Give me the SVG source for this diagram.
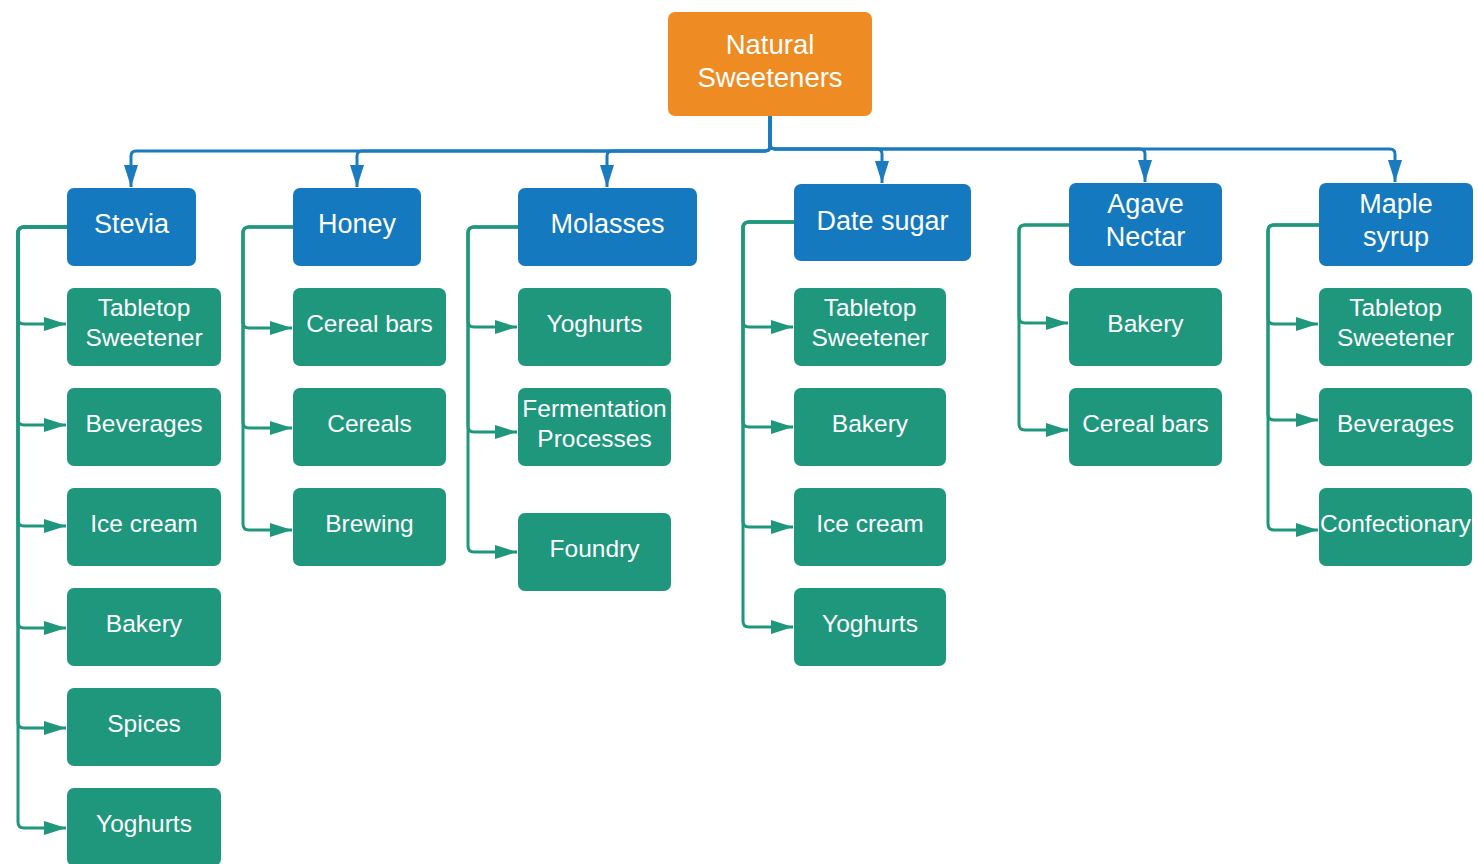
<svg xmlns="http://www.w3.org/2000/svg" width="1478" height="864" viewBox="0 0 1478 864">
<style>
.root{fill:#EF8B23}
.hd{fill:#1479BE}
.ch{fill:#1E977C}
text{font-family:"Liberation Sans",Arial,sans-serif;fill:#fff;text-anchor:middle}
.t0{font-size:27.5px}
.t1{font-size:27px}
.t2{font-size:24.5px}
.bl{fill:none;stroke:#1A7BBF;stroke-width:3}
.gl{fill:none;stroke:#1E977C;stroke-width:3}
</style>
<defs>
<marker id="ab" markerUnits="userSpaceOnUse" markerWidth="24" markerHeight="16" refX="22" refY="7" orient="auto"><path d="M0,0 L22,7 L0,14 z" fill="#1A7BBF"/></marker>
<marker id="ag" markerUnits="userSpaceOnUse" markerWidth="24" markerHeight="16" refX="22" refY="7" orient="auto"><path d="M0,0 L22,7 L0,14 z" fill="#1E977C"/></marker>
</defs>
<rect width="1478" height="864" fill="#fff"/>
<g id="connectors">
<path class="bl" marker-end="url(#ab)" d="M770,116 V146 Q770,151 765,151 H136 Q131,151 131,156 V187"/>
<path class="bl" marker-end="url(#ab)" d="M770,116 V146 Q770,151 765,151 H362 Q357,151 357,156 V187"/>
<path class="bl" marker-end="url(#ab)" d="M770,116 V146 Q770,151 765,151 H612 Q607,151 607,156 V187"/>
<path class="bl" marker-end="url(#ab)" d="M770,116 V144 Q770,149 775,149 H877 Q882,149 882,154 V183"/>
<path class="bl" marker-end="url(#ab)" d="M770,116 V144 Q770,149 775,149 H1140 Q1145,149 1145,154 V182"/>
<path class="bl" marker-end="url(#ab)" d="M770,116 V144 Q770,149 775,149 H1390 Q1395,149 1395,154 V182"/>
<!-- Stevia -->
<path class="gl" marker-end="url(#ag)" d="M67,227 H24 Q18,227 18,233 V318 Q18,324 24,324 H66"/>
<path class="gl" marker-end="url(#ag)" d="M67,227 H24 Q18,227 18,233 V419 Q18,425 24,425 H66"/>
<path class="gl" marker-end="url(#ag)" d="M67,227 H24 Q18,227 18,233 V520 Q18,526 24,526 H66"/>
<path class="gl" marker-end="url(#ag)" d="M67,227 H24 Q18,227 18,233 V622 Q18,628 24,628 H66"/>
<path class="gl" marker-end="url(#ag)" d="M67,227 H24 Q18,227 18,233 V722 Q18,728 24,728 H66"/>
<path class="gl" marker-end="url(#ag)" d="M67,227 H24 Q18,227 18,233 V822 Q18,828 24,828 H66"/>
<!-- Honey -->
<path class="gl" marker-end="url(#ag)" d="M293,227 H249 Q243,227 243,233 V322 Q243,328 249,328 H292"/>
<path class="gl" marker-end="url(#ag)" d="M293,227 H249 Q243,227 243,233 V422 Q243,428 249,428 H292"/>
<path class="gl" marker-end="url(#ag)" d="M293,227 H249 Q243,227 243,233 V524 Q243,530 249,530 H292"/>
<!-- Molasses -->
<path class="gl" marker-end="url(#ag)" d="M518,227 H474 Q468,227 468,233 V321 Q468,327 474,327 H517"/>
<path class="gl" marker-end="url(#ag)" d="M518,227 H474 Q468,227 468,233 V426 Q468,432 474,432 H517"/>
<path class="gl" marker-end="url(#ag)" d="M518,227 H474 Q468,227 468,233 V546 Q468,552 474,552 H517"/>
<!-- Date sugar -->
<path class="gl" marker-end="url(#ag)" d="M794,222 H749 Q743,222 743,228 V321 Q743,327 749,327 H793"/>
<path class="gl" marker-end="url(#ag)" d="M794,222 H749 Q743,222 743,228 V421 Q743,427 749,427 H793"/>
<path class="gl" marker-end="url(#ag)" d="M794,222 H749 Q743,222 743,228 V521 Q743,527 749,527 H793"/>
<path class="gl" marker-end="url(#ag)" d="M794,222 H749 Q743,222 743,228 V621 Q743,627 749,627 H793"/>
<!-- Agave -->
<path class="gl" marker-end="url(#ag)" d="M1069,225 H1025 Q1019,225 1019,231 V317 Q1019,323 1025,323 H1068"/>
<path class="gl" marker-end="url(#ag)" d="M1069,225 H1025 Q1019,225 1019,231 V424 Q1019,430 1025,430 H1068"/>
<!-- Maple -->
<path class="gl" marker-end="url(#ag)" d="M1319,225 H1274 Q1268,225 1268,231 V318 Q1268,324 1274,324 H1318"/>
<path class="gl" marker-end="url(#ag)" d="M1319,225 H1274 Q1268,225 1268,231 V414 Q1268,420 1274,420 H1318"/>
<path class="gl" marker-end="url(#ag)" d="M1319,225 H1274 Q1268,225 1268,231 V524 Q1268,530 1274,530 H1318"/>
</g>
<g id="root"><rect class="root" x="668" y="12" width="204" height="104" rx="7"/><text class="t0" x="770" y="54">Natural</text><text class="t0" x="770" y="87">Sweeteners</text></g>
<g id="stevia"><rect class="hd" x="67" y="188" width="129" height="78" rx="7"/><text class="t1" x="131.5" y="233">Stevia</text></g>
<g id="honey"><rect class="hd" x="293" y="188" width="128" height="78" rx="7"/><text class="t1" x="357" y="233">Honey</text></g>
<g id="molasses"><rect class="hd" x="518" y="188" width="179" height="78" rx="7"/><text class="t1" x="607.5" y="233">Molasses</text></g>
<g id="datesugar"><rect class="hd" x="794" y="184" width="177" height="77" rx="7"/><text class="t1" x="882.5" y="230">Date sugar</text></g>
<g id="agave"><rect class="hd" x="1069" y="183" width="153" height="83" rx="7"/><text class="t1" x="1145.5" y="213">Agave</text><text class="t1" x="1145.5" y="246">Nectar</text></g>
<g id="maple"><rect class="hd" x="1319" y="183" width="154" height="83" rx="7"/><text class="t1" x="1396" y="213">Maple</text><text class="t1" x="1396" y="246">syrup</text></g>

<g id="s1"><rect class="ch" x="67" y="288" width="154" height="78" rx="7"/><text class="t2" x="144" y="316">Tabletop</text><text class="t2" x="144" y="346">Sweetener</text></g>
<g id="s2"><rect class="ch" x="67" y="388" width="154" height="78" rx="7"/><text class="t2" x="144" y="432">Beverages</text></g>
<g id="s3"><rect class="ch" x="67" y="488" width="154" height="78" rx="7"/><text class="t2" x="144" y="532">Ice cream</text></g>
<g id="s4"><rect class="ch" x="67" y="588" width="154" height="78" rx="7"/><text class="t2" x="144" y="632">Bakery</text></g>
<g id="s5"><rect class="ch" x="67" y="688" width="154" height="78" rx="7"/><text class="t2" x="144" y="732">Spices</text></g>
<g id="s6"><rect class="ch" x="67" y="788" width="154" height="78" rx="7"/><text class="t2" x="144" y="832">Yoghurts</text></g>

<g id="h1"><rect class="ch" x="293" y="288" width="153" height="78" rx="7"/><text class="t2" x="369.5" y="332">Cereal bars</text></g>
<g id="h2"><rect class="ch" x="293" y="388" width="153" height="78" rx="7"/><text class="t2" x="369.5" y="432">Cereals</text></g>
<g id="h3"><rect class="ch" x="293" y="488" width="153" height="78" rx="7"/><text class="t2" x="369.5" y="532">Brewing</text></g>

<g id="m1"><rect class="ch" x="518" y="288" width="153" height="78" rx="7"/><text class="t2" x="594.5" y="332">Yoghurts</text></g>
<g id="m2"><rect class="ch" x="518" y="388" width="153" height="78" rx="7"/><text class="t2" x="594.5" y="417">Fermentation</text><text class="t2" x="594.5" y="447">Processes</text></g>
<g id="m3"><rect class="ch" x="518" y="513" width="153" height="78" rx="7"/><text class="t2" x="594.5" y="557">Foundry</text></g>

<g id="d1"><rect class="ch" x="794" y="288" width="152" height="78" rx="7"/><text class="t2" x="870" y="316">Tabletop</text><text class="t2" x="870" y="346">Sweetener</text></g>
<g id="d2"><rect class="ch" x="794" y="388" width="152" height="78" rx="7"/><text class="t2" x="870" y="432">Bakery</text></g>
<g id="d3"><rect class="ch" x="794" y="488" width="152" height="78" rx="7"/><text class="t2" x="870" y="532">Ice cream</text></g>
<g id="d4"><rect class="ch" x="794" y="588" width="152" height="78" rx="7"/><text class="t2" x="870" y="632">Yoghurts</text></g>

<g id="a1"><rect class="ch" x="1069" y="288" width="153" height="78" rx="7"/><text class="t2" x="1145.5" y="332">Bakery</text></g>
<g id="a2"><rect class="ch" x="1069" y="388" width="153" height="78" rx="7"/><text class="t2" x="1145.5" y="432">Cereal bars</text></g>

<g id="p1"><rect class="ch" x="1319" y="288" width="153" height="78" rx="7"/><text class="t2" x="1395.5" y="316">Tabletop</text><text class="t2" x="1395.5" y="346">Sweetener</text></g>
<g id="p2"><rect class="ch" x="1319" y="388" width="153" height="78" rx="7"/><text class="t2" x="1395.5" y="432">Beverages</text></g>
<g id="p3"><rect class="ch" x="1319" y="488" width="153" height="78" rx="7"/><text class="t2" x="1395.5" y="532">Confectionary</text></g>
</svg>
